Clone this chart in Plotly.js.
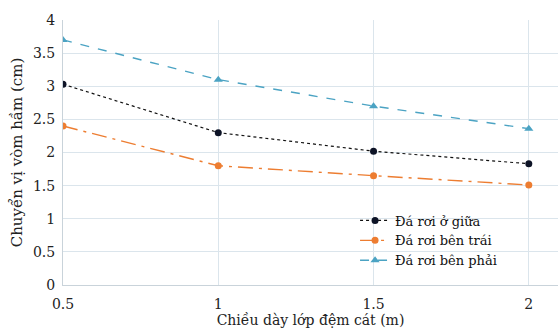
<!DOCTYPE html>
<html><head><meta charset="utf-8">
<script src="https://cdn.plot.ly/plotly-3.0.1.min.js"></script>
<style>body{margin:0;background:#fff}#c{width:558px;height:330px}</style>
</head><body><div id="c"></div>
<script>
const xVals = [0.5, 1, 1.5, 2];
const giua = [3.03, 2.30, 2.02, 1.83];
const trai = [2.40, 1.80, 1.65, 1.51];
const phai = [3.70, 3.10, 2.70, 2.36];
const names = ['Đá rơi ở giữa', 'Đá rơi bên trái', 'Đá rơi bên phải'];
const traces = [
  {x: xVals, y: giua, name: names[0], mode: 'lines+markers',
   line: {color: '#111111', width: 1.2, dash: 'dot'}, marker: {color: '#0d1326', size: 7, symbol: 'circle'}},
  {x: xVals, y: trai, name: names[1], mode: 'lines+markers',
   line: {color: '#ED7D31', width: 1.4, dash: 'longdashdot'}, marker: {color: '#ED7D31', size: 7, symbol: 'circle'}},
  {x: xVals, y: phai, name: names[2], mode: 'lines+markers',
   line: {color: '#4BA3C3', width: 1.4, dash: 'dash'}, marker: {color: '#4BA3C3', size: 8, symbol: 'triangle-up'}}
];
const layout = {
  width: 558, height: 330,
  margin: {l: 63, r: 0, t: 20, b: 45},
  paper_bgcolor: '#fff', plot_bgcolor: '#fff',
  font: {family: 'DejaVu Serif', size: 14, color: '#222'},
  showlegend: true,
  legend: {x: 0.59, y: 0.3, xanchor: 'left', yanchor: 'top', bgcolor: 'rgba(0,0,0,0)',
    font: {size: 13, color: '#111'}, tracegroupgap: 0},
  xaxis: {range: [0.5, 2.094], tickvals: xVals, ticktext: ['0.5','1','1.5','2'],
    showgrid: true, gridcolor: '#dbe5ec', gridwidth: 1, zeroline: false,
    showline: true, linecolor: '#c9d3da', linewidth: 1, ticks: 'outside', ticklen: 6, tickcolor: 'rgba(0,0,0,0)',
    tickfont: {size: 14, color: '#222'},
    title: {text: 'Chiều dày lớp đệm cát (m)', font: {size: 14, color: '#222'}, standoff: 3}},
  yaxis: {range: [0, 4], tickvals: [0,0.5,1,1.5,2,2.5,3,3.5,4],
    ticktext: ['0','0.5','1','1.5','2','2.5','3','3.5','4'],
    showgrid: true, gridcolor: '#dbe5ec', gridwidth: 1, zeroline: false,
    showline: true, linecolor: '#c9d3da', linewidth: 1, ticks: 'outside', ticklen: 4, tickcolor: 'rgba(0,0,0,0)',
    tickfont: {size: 14, color: '#222'},
    title: {text: 'Chuyển vị vòm hầm (cm)', font: {size: 15, color: '#222'}, standoff: 6}}
};
Plotly.newPlot('c', traces, layout, {displayModeBar: false, staticPlot: true});
</script></body></html>
